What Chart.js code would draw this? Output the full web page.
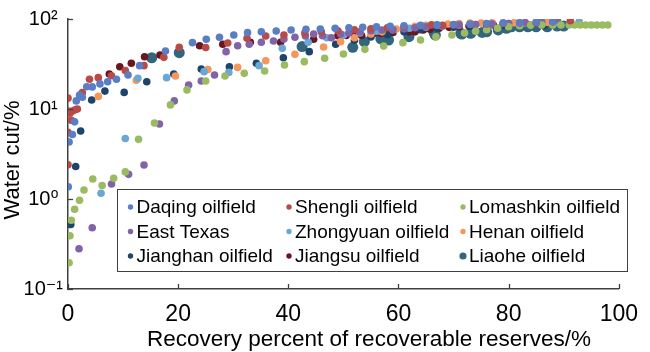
<!DOCTYPE html>
<html>
<head>
<meta charset="utf-8">
<script src="https://cdn.jsdelivr.net/npm/chart.js@4.4.0/dist/chart.umd.min.js"></script>
<style>
    html, body { margin: 0; padding: 0; background: #fff; }
    .wrap { width: 650px; height: 352px; }
</style>
</head>
<body>
<div class="wrap"><canvas id="myChart"></canvas></div>
<script>
// ---- data (x = recovery percent, y = water cut %) ----
const names = ['Daqing oilfield', 'Shengli oilfield', 'Lomashkin oilfield',
    'East Texas', 'Zhongyuan oilfield', 'Henan oilfield',
    'Jianghan oilfield', 'Jiangsu oilfield', 'Liaohe oilfield'];
const colors = ['#5a7ec6', '#b94a48', '#9bbb62', '#8064a6', '#69a7d4',
    '#f5965a', '#1f4469', '#6a1620', '#33667e'];

const daqing = [[0.05, 1.37], [0.2, 4.3], [0.8, 5.2], [1.2, 7.2], [1.5, 12.3], [2.1, 14.3], [2.6, 13.5],
    [3.4, 17.7], [4.4, 17.6], [5.8, 19], [7.2, 20.1], [8.8, 21.4], [10.9, 23.9], [13, 30.3], [17.7, 44.1],
    [22.6, 54.6], [25.1, 59.5], [27.5, 62.7], [30.1, 66.4], [32.6, 70.5], [35.1, 72.3], [37.8, 73.5],
    [40.5, 75.5], [43.2, 76.8], [45.8, 77.4], [48.5, 78.8], [51, 80], [53.5, 81], [56, 82], [58.5, 83],
    [61, 84], [64, 85], [67, 86], [70, 87], [73, 88], [76, 89], [79, 90], [82, 91], [85, 92], [88, 93]];
const shengli = [[0, 13.2], [0, 9.5], [0.4, 9], [0.8, 9.5], [1.3, 9.8], [1.7, 10], [0.6, 7.5], [0, 5.5],
    [0, 2.4], [2.6, 15.2], [3.9, 21.4], [5.5, 22.3], [7.9, 23.4], [10.4, 26.7], [13.8, 30.3], [17.4, 37.5],
    [20.2, 48.5], [25, 48.2], [29, 54.1], [32.5, 61], [35.9, 64.7], [39.2, 66.4], [43, 70], [46, 72],
    [49, 74], [52, 76], [55, 78], [58, 80], [61, 82], [64, 84], [66, 86], [68, 85], [70, 86], [73, 87],
    [76, 88], [79, 89], [82, 90], [85, 91], [88, 93], [91.2, 95.8]];
const lomashkin = [[0.2, 0.196], [0.35, 0.39], [0.6, 0.58], [1.2, 0.77], [2.1, 0.97], [2.9, 1.26],
    [4.5, 1.67], [6.2, 1.41], [8.3, 1.7], [10.4, 2], [12.8, 4.6], [15.7, 7], [18.6, 11.1], [21.6, 16.3],
    [25, 20.5], [28.5, 23.3], [32, 24.9], [35.7, 26.4], [39.3, 30.8], [42.9, 33.6], [46.6, 36.6],
    [50, 40.8], [53.9, 46], [57.3, 50], [60.8, 54.6], [64, 58.4], [66.8, 63.6], [69.7, 66.4], [72, 70],
    [74, 73], [76, 76], [78, 79], [80, 82], [82, 84], [84, 85], [86, 85.5], [88, 85.8], [89.5, 85.8],
    [91, 85.8], [92, 85.8], [93, 85.8], [94, 85.8], [95, 85.8], [96, 85.8], [97, 85.8], [98, 85.8]];
const eastTexas = [[2, 0.28], [4.4, 0.48], [7.9, 1.47], [11, 1.88], [13.8, 2.39], [16.6, 6.8],
    [19.3, 12.3], [21.9, 18.5], [24.2, 20.5], [26.6, 23.9], [28.7, 43.4], [30.8, 50.5], [32.9, 52.4],
    [35.1, 55.1], [37.3, 57], [39.2, 60], [41.2, 62.7], [43.1, 64.7], [44.6, 68.1], [46.2, 65.2],
    [47.8, 62], [49.5, 68], [51, 70], [53, 72], [55, 74], [57, 75.5], [59, 76], [61, 78], [63, 80],
    [65, 82], [68, 84], [71, 86], [74, 87], [77, 88], [80, 89], [83, 91], [86, 93], [88.8, 98]];
const zhongyuan = [[6, 1.16], [10.4, 4.7], [12.7, 21.9], [17.9, 22.3], [24.7, 26], [29.2, 25.5],
    [34.7, 30.3], [38.9, 47.2], [43.6, 55.1], [47, 62], [50, 66], [53, 70], [56, 73], [59, 76],
    [62, 79], [65, 81], [68, 83], [71, 85], [74, 87], [77, 88], [80, 89], [83, 90], [86, 91], [89, 92],
    [92.8, 93]];
const henan = [[5.5, 13.8], [12.4, 20.8], [19.5, 23.3], [25.4, 27.5], [30.8, 29], [35.9, 34.4],
    [41.2, 40.5], [46.4, 48.9], [49.5, 56], [52, 62], [55, 68], [57, 72], [59.6, 77.4], [61, 80],
    [63, 83], [65, 85], [67, 86], [69, 88], [71, 89], [73, 90], [75, 90], [77, 90.5], [79, 91],
    [81, 91], [83, 91.5], [85, 92], [87, 92]];
const jianghan = [[0.5, 0.52], [1.4, 2.3], [2.3, 5.7], [4.3, 12.6], [6.7, 15.8], [10.2, 15.3],
    [14.3, 20.1], [19.2, 24.5], [24.2, 27.8], [29.3, 29.5], [34.2, 32.2], [39.1, 37.1], [43.8, 43.4],
    [48.6, 52.4], [52, 58], [55, 63], [58, 67], [61, 72], [64, 76], [67, 79], [70, 81], [73, 83],
    [76, 84], [79, 85], [82, 85], [84, 85], [86.4, 84]];
const jiangsu = [[7.5, 24.5], [9.4, 29.5], [11.5, 32.2], [13.9, 38.1], [16.7, 39.8], [23.9, 50.5],
    [28.1, 52.4], [33.1, 55.1], [38.6, 55.1], [44.6, 59.5], [49, 65.2], [50.5, 65.5], [52, 66],
    [53.3, 65.5], [55.6, 69.3], [56.8, 69.3], [59, 71], [61.9, 72], [63, 72], [64.5, 75.5],
    [65.7, 76.8], [67.4, 78.8], [69.2, 80.8], [71, 82], [72.8, 83.6], [77.2, 86]];
const liaohe = [[15.2, 37.1], [20.2, 42.3], [42.5, 49.4], [51.7, 48.5], [53.8, 56], [56.8, 60],
    [58.2, 58.4], [61.9, 63.6], [66.5, 69.3], [66.7, 66.4], [71.3, 69.3], [71.5, 68.1], [73.1, 69.3],
    [73.2, 70.5], [75.2, 71], [76, 72], [78.1, 75.5], [79.6, 78.8], [80.5, 82], [82, 82], [83.5, 82],
    [85, 82], [87, 82], [88.8, 83.6], [90, 83.6]];

const series = [daqing, shengli, lomashkin, eastTexas, zhongyuan, henan, jianghan, jiangsu, liaohe];

const xTicks = [0, 20, 40, 60, 80, 100];
const yTicks = [0.1, 1, 10, 100];
const yTickLabels = ['10⁻¹', '10⁰', '10¹', '10²'];
const xTitle = 'Recovery percent of recoverable reserves/%';
const yTitle = 'Water cut/%';

const FONT = "'Liberation Sans', Arial, 'DejaVu Sans', sans-serif";
const AXIS = '#404040';

//====================================
// inward tick marks on both axes
const innerTicks = {
    id: 'innerTicks',
    afterDatasetsDraw(chart) {
        const {ctx, chartArea, scales} = chart;
        ctx.save();
        ctx.strokeStyle = AXIS;
        ctx.lineWidth = 1.3;
        scales.x.ticks.forEach(t => {
            const px = Math.round(scales.x.getPixelForValue(t.value)) + 0.5;
            ctx.beginPath();
            ctx.moveTo(px, chartArea.bottom);
            ctx.lineTo(px, chartArea.bottom - 5);
            ctx.stroke();
        });
        scales.y.ticks.forEach(t => {
            const py = Math.round(scales.y.getPixelForValue(t.value)) + 0.5;
            ctx.beginPath();
            ctx.moveTo(chartArea.left, py);
            ctx.lineTo(chartArea.left + 5, py);
            ctx.stroke();
        });
        ctx.restore();
    }
};

// axis titles (placed like the source figure, not centred on the plot)
const axisTitles = {
    id: 'axisTitles',
    afterDraw(chart) {
        const ctx = chart.ctx;
        ctx.save();
        ctx.fillStyle = '#000';
        ctx.textAlign = 'center';
        ctx.textBaseline = 'alphabetic';
        ctx.font = '22.5px ' + FONT;
        ctx.fillText(xTitle, 369, 346);
        ctx.font = '22px ' + FONT;
        ctx.translate(19, 160);
        ctx.rotate(-Math.PI / 2);
        ctx.fillText(yTitle, 0, 0);
        ctx.restore();
    }
};

// boxed legend, 3 columns, inside the plot
const boxLegend = {
    id: 'boxLegend',
    afterDraw(chart) {
        const ctx = chart.ctx;
        const colX = [130.5, 289, 463];
        const rowY = [207, 231.5, 256];
        ctx.save();
        ctx.fillStyle = '#fff';
        ctx.fillRect(117.5, 189.5, 510, 82);
        ctx.strokeStyle = AXIS;
        ctx.lineWidth = 1;
        ctx.strokeRect(117.5, 189.5, 510, 82);
        ctx.font = '19px ' + FONT;
        ctx.textBaseline = 'middle';
        chart.data.datasets.forEach((ds, i) => {
            const cx = colX[i % 3];
            const cy = rowY[Math.floor(i / 3)];
            ctx.fillStyle = ds.backgroundColor;
            ctx.beginPath();
            ctx.arc(cx, cy, i === 8 ? 3.6 : 2.7, 0, Math.PI * 2);
            ctx.fill();
            ctx.fillStyle = '#000';
            ctx.fillText(ds.label, cx + 6, cy + 1);
        });
        ctx.restore();
    }
};

const ctx = document.getElementById('myChart');

new Chart(ctx, {
    type: 'scatter',
    data: {
        datasets: series.map((s, i) => ({
            label: names[i],
            data: s.map(p => ({x: p[0], y: p[1]})),
            backgroundColor: colors[i],
            borderWidth: 0,
            pointRadius: i === 8 ? 5.5 : 3.8,
        })),
    },
    options: {
        responsive: true,
        maintainAspectRatio: false,
        animation: false,
        layout: {padding: {top: 19, right: 20, left: 0, bottom: 0}},
        scales: {
            x: {
                type: 'linear',
                min: 0,
                max: 100,
                afterBuildTicks: (s) => { s.ticks = xTicks.map(v => ({value: v})); },
                afterFit: (s) => { s.height = 63; },
                grid: {drawOnChartArea: false, drawTicks: false},
                border: {color: AXIS, width: 1.5},
                ticks: {color: '#000', padding: 12, font: {size: 23, family: FONT}}
            },
            y: {
                type: 'logarithmic',
                min: 0.1,
                max: 100,
                afterBuildTicks: (s) => { s.ticks = yTicks.map(v => ({value: v})); },
                afterFit: (s) => { s.width = 68; },
                grid: {drawOnChartArea: false, drawTicks: false},
                border: {color: AXIS, width: 1.5},
                ticks: {
                    color: '#000',
                    padding: 5,
                    crossAlign: 'center',
                    font: {size: 20, family: FONT},
                    callback: (v, i) => yTickLabels[i]
                }
            }
        },
        plugins: {
            legend: {display: false},
            tooltip: {enabled: false}
        }
    },
    plugins: [innerTicks, axisTitles, boxLegend]
});
</script>
</body>
</html>
